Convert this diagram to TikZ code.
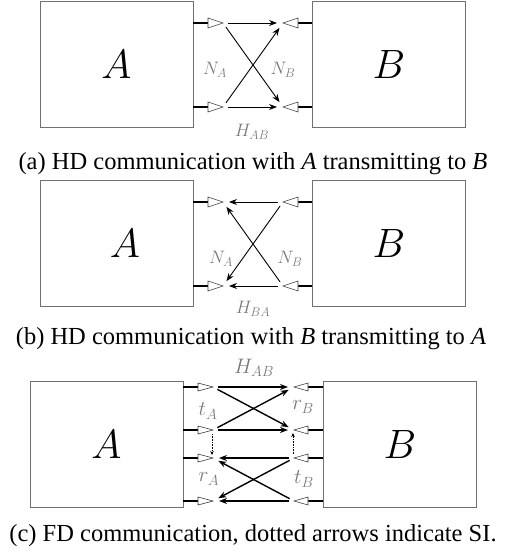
\RequirePackage{fix-cm}
\documentclass[tikz,border=0pt]{standalone}
\usepackage{fontspec}
\setmainfont{Liberation Serif}
\usetikzlibrary{arrows.meta, positioning, calc}
\definecolor{cgrey}{HTML}{707070}
\definecolor{clabel}{HTML}{7A7A7A}
\tikzset{
  every picture/.style={line width=0.8pt},
  box/.style={draw=cgrey, line width=0.9pt, minimum width=153pt, minimum height=126pt, inner sep=0pt, font=\fontsize{41}{41}\selectfont},
  stub/.style={line width=2.6pt, black},
  tri/.style={draw=black!75, fill=white, line width=0.6pt},
  link/.style={-{Stealth[length=8pt, width=6pt]}, line width=0.9pt, shorten <=5pt, shorten >=6pt},
  thick link/.style={link, line width=1.4pt},
  si/.style={-{Stealth[length=4pt, width=3.5pt]}, densely dotted, line width=0.6pt, shorten <=4pt, shorten >=3pt},
  lab/.style={text=clabel, font=\fontsize{18}{18}\selectfont},
  biglab/.style={text=clabel, font=\fontsize{21}{21}\selectfont},
  caption/.style={font=\fontsize{24.5}{24.5}\selectfont, anchor=base},
}

\begin{document}
\begin{tikzpicture}[x=1pt, y=-1pt]
  \useasboundingbox (0,0) rectangle (510,554);
  % (a) A transmits to B
  \node[box] (Aa) at (116.5,64) {$A$};
  \node[box] (Ba) at (389,64) {$B$};
  \foreach \y/\n in {23/1, 107/2} {
    \draw[stub] (193,\y) -- (208,\y);
    \draw[tri] (208,\y-5) -- (223,\y) -- (208,\y+5) -- cycle;
    \coordinate (aa\n) at (223,\y);
    \draw[stub] (312,\y) -- (298,\y);
    \draw[tri] (298,\y-5) -- (283,\y) -- (298,\y+5) -- cycle;
    \coordinate (ab\n) at (283,\y);
  }
  \draw[link] (aa1) -- (ab1);
  \draw[link] (aa1) -- (ab2);
  \draw[link] (aa2) -- (ab1);
  \draw[link] (aa2) -- (ab2);
  \node[lab] (naa) at (215,70) {$N_A$};
  \node[lab] (nba) at (283,70) {$N_B$};
  \node[lab] (hab) at (252,132) {$H_{AB}$};
  \node[caption] (capa) at (253,169) {(a) HD communication with \textit{A} transmitting to \textit{B}};

  % (b) B transmits to A
  \node[box] (Ab) at (116.5,243.5) {\hspace{17pt}$A$};
  \node[box] (Bb) at (389,243.5) {$B$};
  \foreach \y/\n in {202/1, 286/2} {
    \draw[stub] (193,\y) -- (208,\y);
    \draw[tri] (208,\y-5) -- (223,\y) -- (208,\y+5) -- cycle;
    \coordinate (ba\n) at (223,\y);
    \draw[stub] (312,\y) -- (298,\y);
    \draw[tri] (298,\y-5) -- (283,\y) -- (298,\y+5) -- cycle;
    \coordinate (bb\n) at (283,\y);
  }
  \draw[link] (bb1) -- (ba1);
  \draw[link] (bb1) -- (ba2);
  \draw[link] (bb2) -- (ba1);
  \draw[link] (bb2) -- (ba2);
  \node[lab] (nab) at (221,259) {$N_A$};
  \node[lab] (nbb) at (290,259) {$N_B$};
  \node[lab] (hba) at (253,309) {$H_{BA}$};
  \node[caption] (capb) at (251,344) {(b) HD communication with \textit{B} transmitting to \textit{A}};

  % (c) full duplex
  \node[box] (Ac) at (106.5,444) {$A$};
  \node[box] (Bc) at (400,444.5) {$B$};
  \foreach \y/\n in {387/1, 430/2, 458/3, 501/4} {
    \draw[stub] (183,\y) -- (198,\y);
    \draw[tri] (198,\y-4) -- (213,\y) -- (198,\y+4) -- cycle;
    \coordinate (ca\n) at (213,\y);
    \draw[stub] (323,\y) -- (308,\y);
    \draw[tri] (308,\y-4) -- (294,\y) -- (308,\y+4) -- cycle;
    \coordinate (cb\n) at (294,\y);
  }
  \draw[thick link] (ca1) -- (cb1);
  \draw[thick link] (ca1) -- (cb2);
  \draw[thick link] (ca2) -- (cb1);
  \draw[thick link] (ca2) -- (cb2);
  \draw[thick link] (cb3) -- (ca3);
  \draw[thick link] (cb3) -- (ca4);
  \draw[thick link] (cb4) -- (ca3);
  \draw[thick link] (cb4) -- (ca4);
  \draw[si] ([xshift=-1pt]ca2) -- ([xshift=-1pt]ca3);
  \draw[si] ([xshift=-1pt]cb3) -- ([xshift=-1pt]cb2);
  \node[biglab] (hac) at (254,368) {$H_{AB}$};
  \node[biglab] (tac) at (208,411) {$t_A$};
  \node[biglab] (rbc) at (303,407) {$r_B$};
  \node[biglab] (rac) at (209,479) {$r_A$};
  \node[biglab] (tbc) at (304,479) {$t_B$};
  \node[caption] (capc) at (253,541) {(c) FD communication, dotted arrows indicate SI.};
\end{tikzpicture}
\end{document}
